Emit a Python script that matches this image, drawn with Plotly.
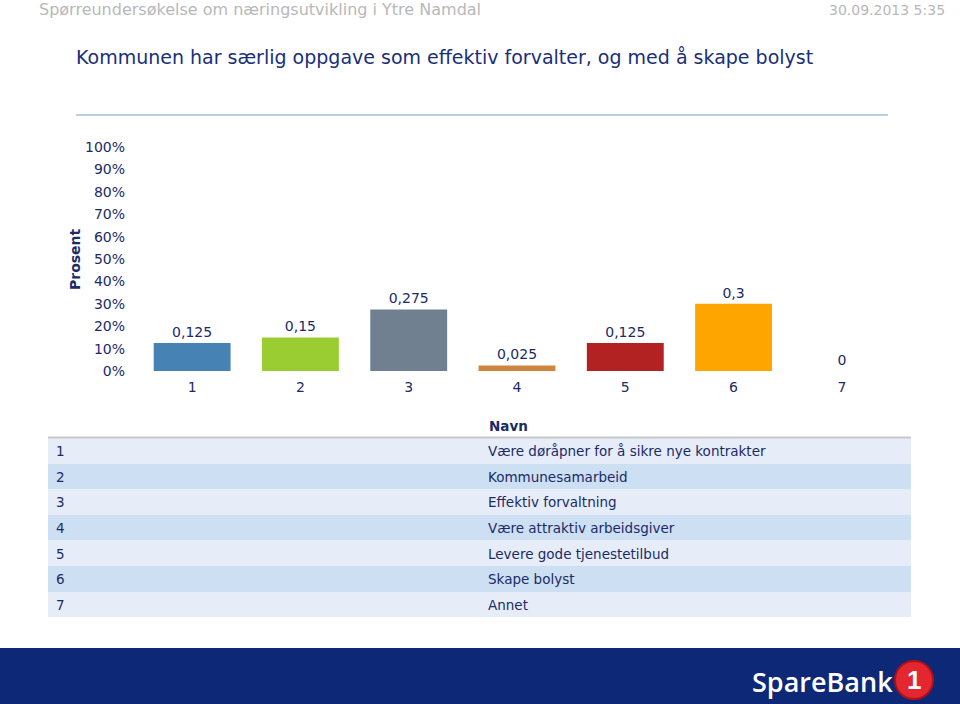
import plotly.graph_objects as go

categories = ["1", "2", "3", "4", "5", "6", "7"]
values = [0.125, 0.15, 0.275, 0.025, 0.125, 0.3, 0]
bar_colors = ["#4682b4", "#9acd32", "#708090", "#cd853f", "#b22222", "#ffa500", "#8b4513"]
names = [
    "Være døråpner for å sikre nye kontrakter",
    "Kommunesamarbeid",
    "Effektiv forvaltning",
    "Være attraktiv arbeidsgiver",
    "Levere gode tjenestetilbud",
    "Skape bolyst",
    "Annet",
]
row_colors = ["#e6edf8", "#cddff3", "#e6edf8", "#cddff3", "#e6edf8", "#cddff3", "#e6edf8"]
table_header = "Navn"

header_text = "Spørreundersøkelse om næringsutvikling i Ytre Namdal"
date_text = "30.09.2013 5:35"
title_text = "Kommunen har særlig oppgave som effektiv forvalter, og med å skape bolyst"

W, H = 960, 704
NAVY = "#1b2b66"
FONT = "DejaVu Sans"

def px(x):
    return x / W

def py(y):
    return 1 - y / H

labels = [("%g" % v).replace(".", ",") for v in values]

fig = go.Figure()
fig.add_trace(go.Bar(
    x=categories, y=values, marker=dict(color=bar_colors, line=dict(width=0)),
    text=labels, textposition="outside", cliponaxis=False,
    textfont=dict(family=FONT, size=14, color=NAVY),
    xaxis="x", yaxis="y", showlegend=False, hoverinfo="skip",
))

fig.add_trace(go.Table(
    domain=dict(x=[px(48), px(911)], y=[py(633), py(414)]),
    columnwidth=[432, 431],
    header=dict(
        values=["", ""],
        fill_color="white", line=dict(color="white", width=0),
        align="left", height=24,
        font=dict(family=FONT, size=13.5, color=NAVY),
    ),
    cells=dict(
        values=[categories, names],
        fill_color=[row_colors, row_colors],
        line=dict(color=[row_colors, row_colors], width=0),
        align="left", height=25.6,
        font=dict(family=FONT, size=13.5, color=NAVY),
    ),
))

shapes = [
    dict(type="line", xref="paper", yref="paper", x0=px(76), x1=px(888), y0=py(115), y1=py(115),
         line=dict(color="#b9cfe0", width=2)),
    dict(type="line", xref="paper", yref="paper", x0=px(48), x1=px(911), y0=py(437.5), y1=py(437.5),
         line=dict(color="#c8c8c8", width=2)),
    dict(type="rect", xref="paper", yref="paper", x0=0, x1=1, y0=0, y1=py(648),
         fillcolor="#0c2876", line=dict(width=0), layer="above"),
    dict(type="circle", xref="paper", yref="paper", x0=px(895), x1=px(933), y0=py(699), y1=py(661),
         fillcolor="#e3262f", line=dict(color="#b01018", width=2), layer="above"),
]

annotations = [
    dict(text=header_text, x=px(37), y=py(10), xref="paper", yref="paper", xanchor="left", yanchor="middle",
         showarrow=False, font=dict(family=FONT, size=16, color="#b8b8b8")),
    dict(text=date_text, x=px(947), y=py(10), xref="paper", yref="paper", xanchor="right", yanchor="middle",
         showarrow=False, font=dict(family=FONT, size=14, color="#b8b8b8")),
    dict(text=title_text, x=px(74), y=py(57), xref="paper", yref="paper", xanchor="left", yanchor="middle",
         showarrow=False, font=dict(family=FONT, size=19, color="#1a2f7a")),
    dict(text="<b>Prosent</b>", x=px(75), y=py(259), xref="paper", yref="paper", xanchor="center", yanchor="middle",
         textangle=-90, showarrow=False, font=dict(family=FONT, size=14, color=NAVY)),
    dict(text="<b>" + table_header + "</b>", x=px(487), y=py(426), xref="paper", yref="paper",
         xanchor="left", yanchor="middle", showarrow=False,
         font=dict(family=FONT, size=13.5, color=NAVY)),
    dict(text="SpareBank", x=px(750), y=py(681), xref="paper", yref="paper", xanchor="left", yanchor="middle",
         showarrow=False, font=dict(family="Open Sans", size=27, color="white", weight=600)),
    dict(text="<b>1</b>", x=px(914), y=py(680), xref="paper", yref="paper", xanchor="center", yanchor="middle",
         showarrow=False, font=dict(family="Liberation Sans", size=26, color="white")),
]

fig.update_layout(
    width=W, height=H, autosize=False, margin=dict(l=0, r=0, t=0, b=0, pad=0, autoexpand=False),
    paper_bgcolor="white", plot_bgcolor="white",
    bargap=0.29,
    xaxis=dict(domain=[px(138), px(896)], type="category", showgrid=False, zeroline=False,
               showline=False, ticks="", ticklabelstandoff=6, automargin=False, fixedrange=True,
               tickfont=dict(family=FONT, size=14, color=NAVY)),
    yaxis=dict(domain=[py(371), py(147)], range=[0, 1], dtick=0.1, tickformat=".0%",
               showgrid=False, zeroline=False, showline=False, ticks="", ticklabelstandoff=12,
               automargin=False, fixedrange=True,
               tickfont=dict(family=FONT, size=14, color=NAVY)),
    shapes=shapes, annotations=annotations,
)

fig.write_html(
    "out.html",
    config={"displayModeBar": False, "responsive": False},
    post_script="document.body.style.margin='0';document.body.style.overflow='hidden';",
)
